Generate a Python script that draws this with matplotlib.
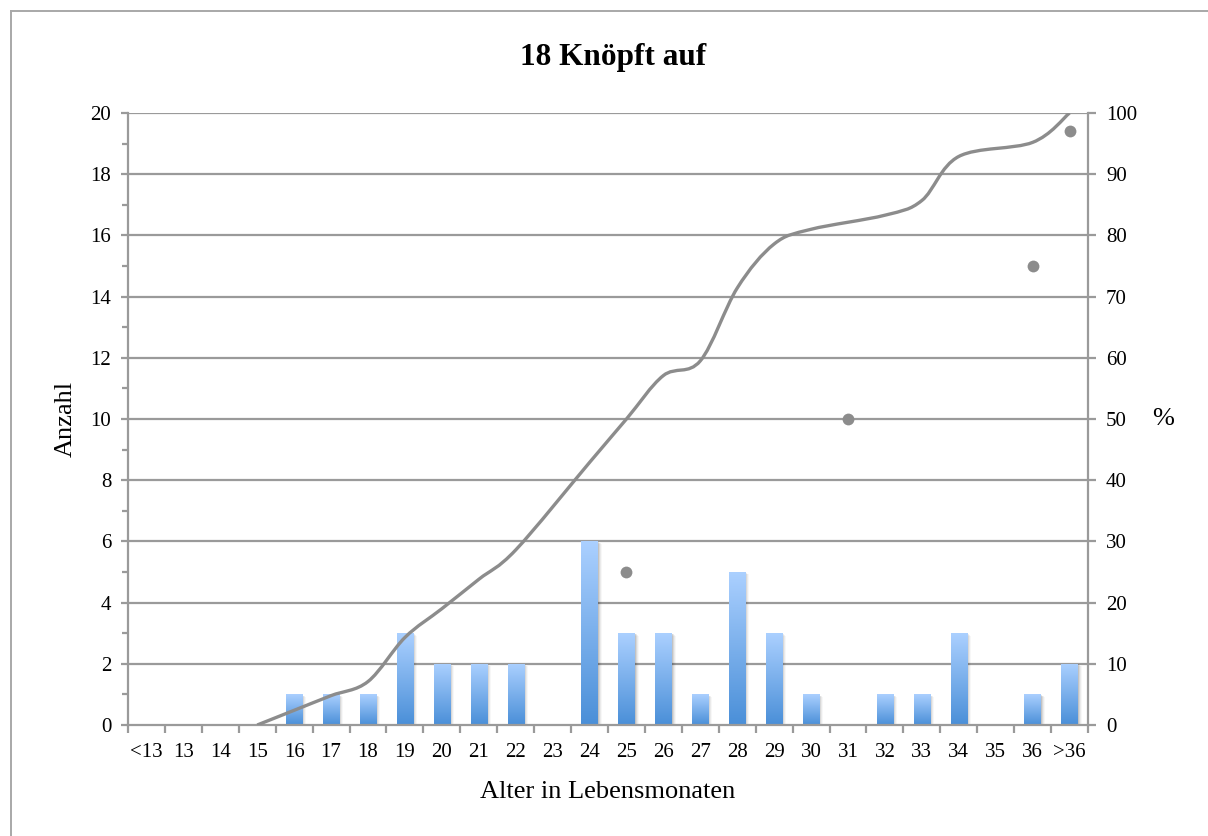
import matplotlib
matplotlib.use("Agg")
import matplotlib.pyplot as plt
import numpy as np
from matplotlib.path import Path
from matplotlib.patches import PathPatch, Rectangle
from matplotlib.lines import Line2D
from matplotlib.colors import LinearSegmentedColormap

plt.rcParams['font.family'] = ['Liberation Serif', 'DejaVu Serif']

# Data
categories = ['<13', '13', '14', '15', '16', '17', '18', '19', '20', '21', '22',
              '23', '24', '25', '26', '27', '28', '29', '30', '31', '32', '33',
              '34', '35', '36', '>36']
counts = [0, 0, 0, 0, 1, 1, 1, 3, 2, 2, 2,
          0, 6, 3, 3, 1, 5, 3, 1, 0, 1, 1,
          3, 0, 1, 2]
# cumulative share in percent (None = no point on the curve)
cumulative_pct = [None, None, None, 0.0, 2.4, 4.8, 7.1, 14.3, 19.0, 23.8, 28.6,
                  None, 42.9, 50.0, 57.1, 59.5, 71.4, 78.6, 81.0, None, 83.3, 85.7,
                  92.9, None, 95.2, 100.0]
quartile_cats = ['25', '31', '36', '>36']
quartile_pct = [25, 50, 75, 97]

W, H = 1208, 836
fig = plt.figure(figsize=(W / 100, H / 100), dpi=100)
ax = fig.add_axes([128 / W, 1 - 725 / H, 960 / W, 612 / H])
ax2 = ax.twinx()

grey = '#8c8c8c'
axis_grey = '#9a9a9a'

x = np.arange(len(categories))
ax.set_xlim(-0.5, len(categories) - 0.5)
ax.set_ylim(0, 20)
ax2.set_ylim(0, 100)

# gridlines
for v in range(2, 21, 2):
    ax.axhline(v, color=axis_grey, lw=1.6, zorder=0.5)

# bars with vertical gradient and a soft shadow
bar_w = 0.44
cmap = LinearSegmentedColormap.from_list('barfill', ['#4a8fd8', '#abd0ff'])
grad = np.linspace(0, 1, 256).reshape(-1, 1)
bars = ax.bar(x, counts, width=bar_w, color='none', edgecolor='none', zorder=2)
px = 1 / 36.92  # one pixel in category units
for rect, c in zip(bars, counts):
    if c <= 0:
        continue
    x0 = rect.get_x()
    for k, a in [(1, 0.10), (2, 0.07), (3, 0.05), (4, 0.03)]:
        ax.add_patch(Rectangle((x0 + k * px, 0), bar_w, c - 0.02 * k,
                               facecolor='black', alpha=a, edgecolor='none', zorder=1.5))
    im = ax.imshow(grad, cmap=cmap, origin='lower', aspect='auto',
                   extent=(x0, x0 + bar_w, 0, c), zorder=2.2, interpolation='bilinear')
    im.set_clip_path(rect)
ax.set_xlim(-0.5, len(categories) - 0.5)
ax.set_ylim(0, 20)

# smoothed cumulative curve (Catmull-Rom as cubic Bezier)
pts = [(xi, v) for xi, v in zip(x, cumulative_pct) if v is not None]
P = np.array(pts, dtype=float)
verts = [tuple(P[0])]
codes = [Path.MOVETO]
n = len(P)
for i in range(n - 1):
    p0 = P[i - 1] if i > 0 else P[i]
    p1 = P[i]
    p2 = P[i + 1]
    p3 = P[i + 2] if i + 2 < n else P[i + 1]
    c1 = p1 + (p2 - p0) / 6.0
    c2 = p2 - (p3 - p1) / 6.0
    verts += [tuple(c1), tuple(c2), tuple(p2)]
    codes += [Path.CURVE4] * 3
ax2.add_patch(PathPatch(Path(verts, codes), facecolor='none', edgecolor=grey,
                        lw=2.4, capstyle='butt', zorder=3))

qx = [categories.index(c) for c in quartile_cats]
ax2.plot(qx, quartile_pct, linestyle='none', marker='o', markersize=8.5,
         color=grey, markeredgewidth=0, zorder=4)

# axes styling
for a in (ax, ax2):
    for s in a.spines.values():
        s.set_visible(False)
ax.spines['left'].set_visible(True)
ax.spines['left'].set_color(axis_grey)
ax.spines['left'].set_linewidth(1.6)
ax.spines['bottom'].set_visible(True)
ax.spines['bottom'].set_color(axis_grey)
ax.spines['bottom'].set_linewidth(1.6)
ax2.spines['right'].set_visible(True)
ax2.spines['right'].set_color(axis_grey)
ax2.spines['right'].set_linewidth(1.6)

ax.set_yticks(range(0, 21, 2))
ax.set_yticks(range(1, 20, 2), minor=True)
ax.tick_params(axis='y', which='major', direction='out', length=5, width=1.6,
               color=axis_grey, labelsize=15, pad=7)
ax.tick_params(axis='y', which='minor', direction='out', length=4, width=1.6,
               color=axis_grey)

ax.set_xticks(np.arange(-0.5, len(categories), 1.0))
ax.set_xticklabels([])
ax.set_xticks(x, minor=True)
ax.set_xticklabels(categories, minor=True)
ax.tick_params(axis='x', which='major', direction='out', length=6, width=1.6,
               color=axis_grey)
ax.tick_params(axis='x', which='minor', length=0, labelsize=15, pad=13)

ax2.set_yticks(range(0, 101, 10))
ax2.tick_params(axis='y', which='major', direction='out', length=6, width=1.6,
                color=axis_grey, labelsize=15, pad=7)

ax.set_ylabel('Anzahl', fontsize=19, va='center', ha='center')
ax.yaxis.set_label_coords(-0.0646, 0.5)
ax.set_xlabel('Alter in Lebensmonaten', fontsize=19, va='center', ha='center')
ax.xaxis.set_label_coords(0.5, -0.1095)
ax2.set_ylabel('%', fontsize=19, rotation=0, va='center', ha='center')
ax2.yaxis.set_label_coords(1.078, 0.5)

fig.text(613 / W, 1 - 58 / H, '18 Knöpft auf', fontsize=22.5, fontweight='bold',
         ha='center', va='center')

# chart border (left and top edges)
fig.add_artist(Line2D([10.5 / W, 10.5 / W], [0, 1 - 11 / H], transform=fig.transFigure,
                      color='#a8a8a8', lw=1.4))
fig.add_artist(Line2D([10.5 / W, 1], [1 - 11 / H, 1 - 11 / H], transform=fig.transFigure,
                      color='#a8a8a8', lw=1.4))

fig.savefig('out.png', dpi=100)
